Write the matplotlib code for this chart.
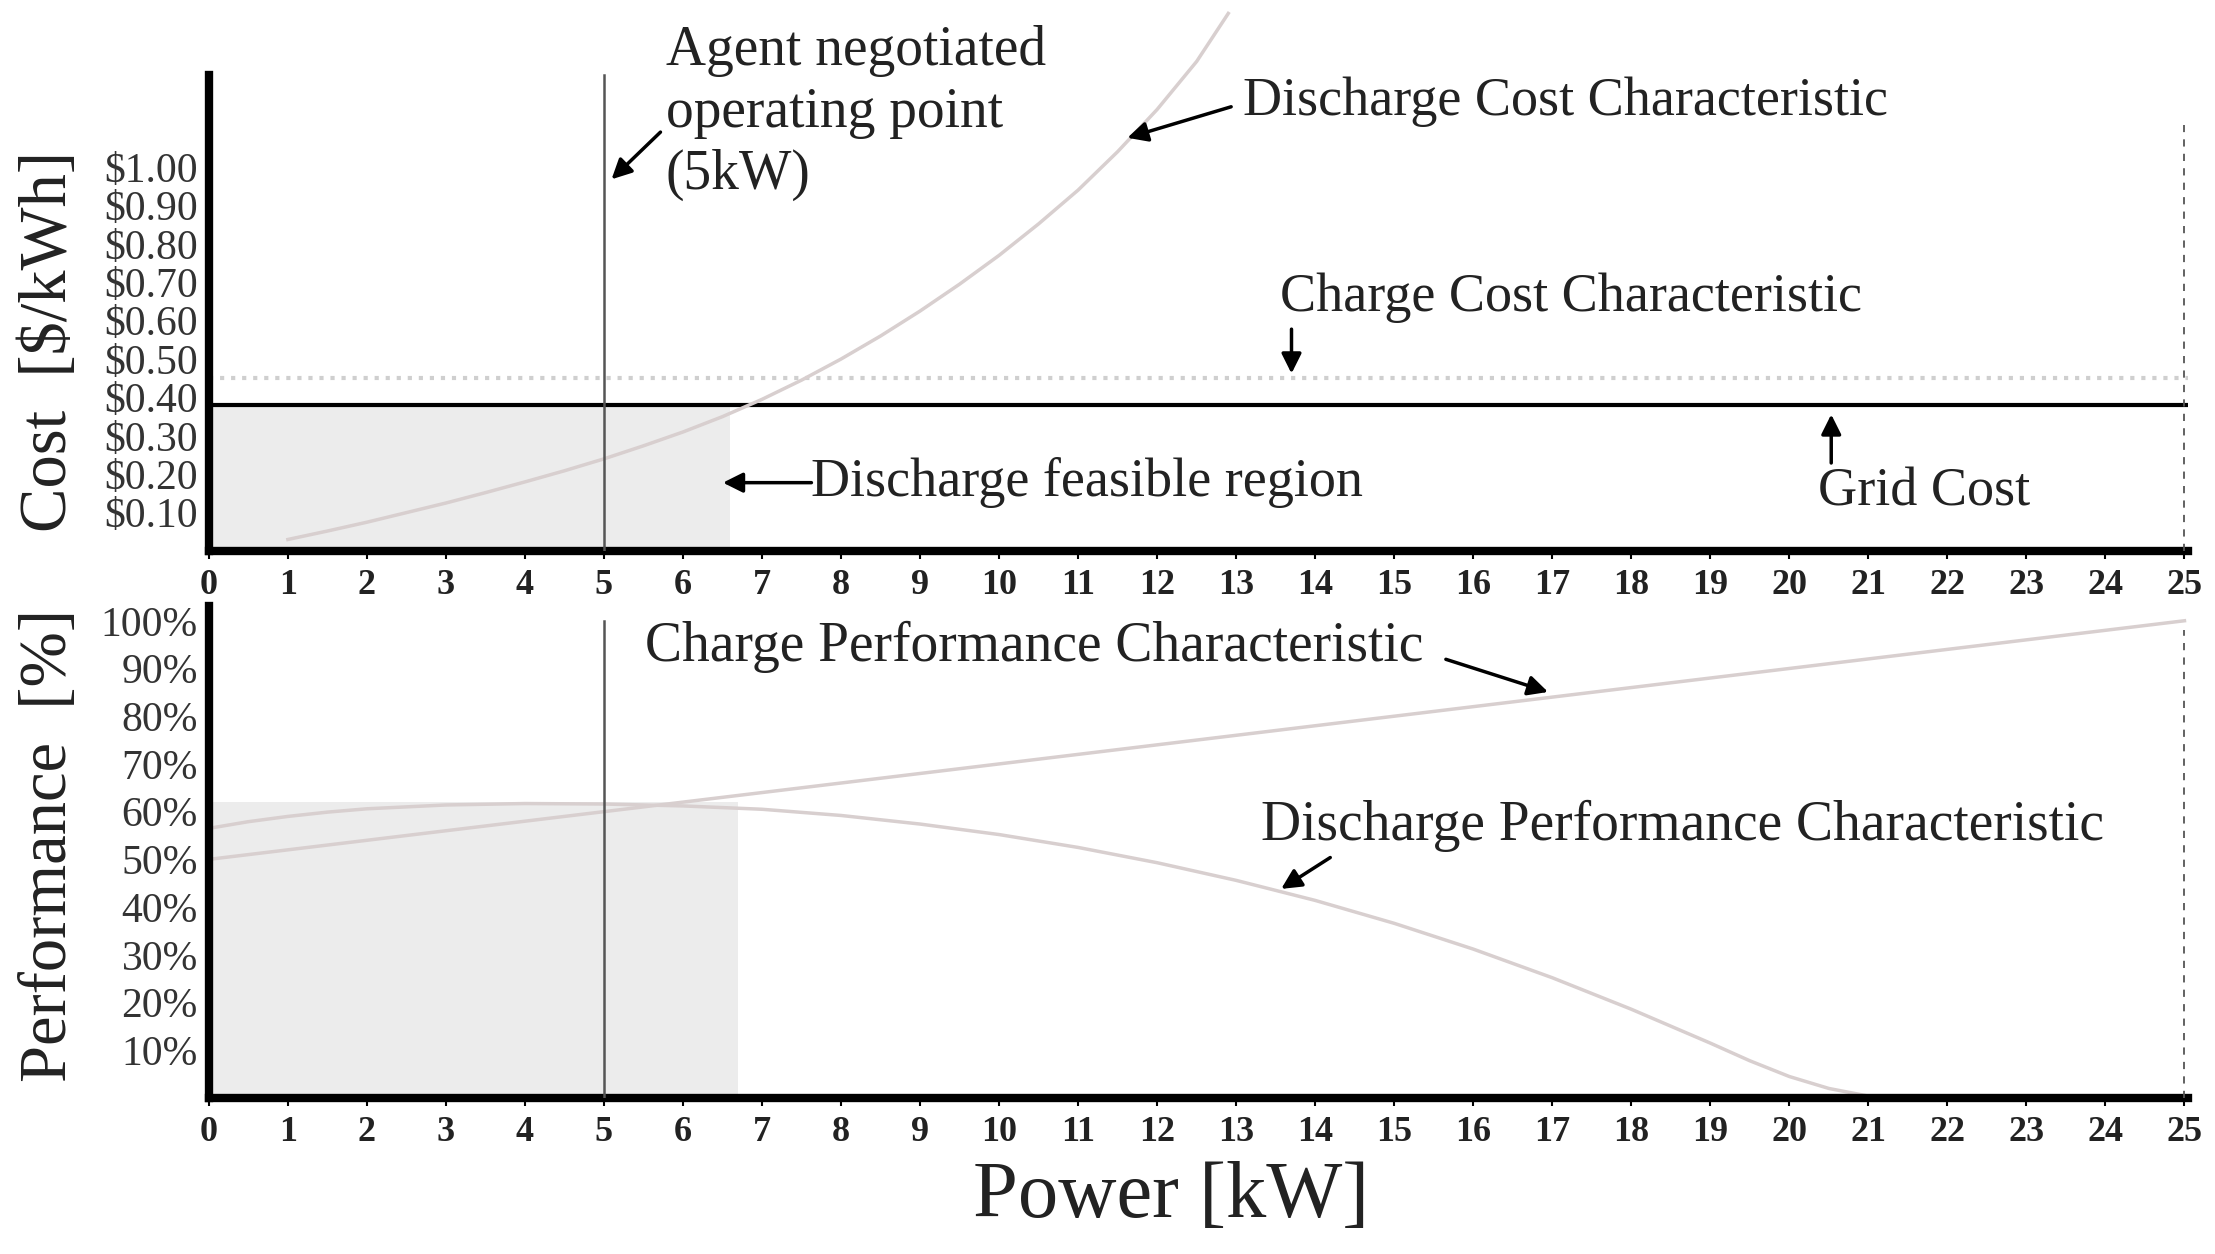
import numpy as np
import matplotlib
matplotlib.use("Agg")
import matplotlib.pyplot as plt
from matplotlib.patches import Rectangle

# values
power_ticks = list(range(26))
cost_ticks = [0.1, 0.2, 0.3, 0.4, 0.5, 0.6, 0.7, 0.8, 0.9, 1.0]
cost_labels = ['\\$0.10', '\\$0.20', '\\$0.30', '\\$0.40', '\\$0.50',
               '\\$0.60', '\\$0.70', '\\$0.80', '\\$0.90', '\\$1.00']
perf_ticks = [10, 20, 30, 40, 50, 60, 70, 80, 90, 100]
perf_labels = ['10%', '20%', '30%', '40%', '50%', '60%', '70%', '80%', '90%', '100%']

discharge_cost_kw = [1.0, 1.5, 2.0, 2.5, 3.0, 3.5, 4.0, 4.5, 5.0, 5.5, 6.0, 6.5, 7.0,
                     7.5, 8.0, 8.5, 9.0, 9.5, 10.0, 10.5, 11.0, 11.5, 12.0, 12.5, 12.9]
discharge_cost = [0.030, 0.052, 0.075, 0.100, 0.125, 0.152, 0.180, 0.209, 0.240, 0.274,
                  0.310, 0.350, 0.395, 0.445, 0.500, 0.560, 0.625, 0.695, 0.770, 0.852,
                  0.940, 1.040, 1.150, 1.275, 1.400]
charge_cost = 0.45
grid_cost = 0.38

charge_perf_kw = [0, 25]
charge_perf = [50, 100]
discharge_perf_kw = [0, 0.5, 1, 1.5, 2, 3, 4, 5, 6, 7, 8, 9, 10, 11, 12, 13, 14, 15, 16,
                     17, 18, 19, 19.5, 20, 20.5, 21]
discharge_perf = [56.5, 57.9, 59.0, 59.9, 60.6, 61.4, 61.7, 61.6, 61.2, 60.5, 59.2, 57.4,
                  55.2, 52.5, 49.3, 45.6, 41.4, 36.6, 31.2, 25.2, 18.6, 11.5, 7.8, 4.5,
                  2.0, 0.4]

operating_point = 5
feasible_cost_kw = 6.6
feasible_perf_kw = 6.7
feasible_perf_top = 62
max_power = 25

serif = 'Liberation Serif'
curve_col = '#d8cfcf'
line_col = '#555555'

fig = plt.figure(figsize=(22.15, 12.54), dpi=100)
ax1 = fig.add_axes([0.0943, 0.5606, 0.8937, 0.4394])
ax2 = fig.add_axes([0.0943, 0.1244, 0.8937, 0.392])

for ax in (ax1, ax2):
    ax.set_xlim(0, 25.05)
    ax.spines['top'].set_visible(False)
    ax.spines['right'].set_visible(False)
    ax.spines['bottom'].set_linewidth(6)
    ax.spines['left'].set_linewidth(6)
    ax.set_xticks(power_ticks)
    ax.set_xticklabels([str(t) for t in power_ticks], fontfamily=serif,
                       fontsize=26, fontweight='bold', color='#222222')
    ax.tick_params(axis='x', length=6, width=1.5, pad=7)
    ax.tick_params(axis='y', length=0, pad=8)

# ---- cost panel ----
ax1.set_ylim(0, 1.435)
ax1.spines['left'].set_bounds(0, 1.24)
ax1.set_yticks(cost_ticks)
ax1.set_yticklabels(cost_labels, fontfamily=serif, fontsize=30, color='#333333')

ax1.add_patch(Rectangle((0, 0), feasible_cost_kw, grid_cost, facecolor='#ececec',
                        edgecolor='none', zorder=0))
ax1.axhline(charge_cost, color='#cfcfcf', lw=3, ls=':', zorder=1)
ax1.axhline(grid_cost, color='black', lw=3, zorder=2)
ax1.plot(discharge_cost_kw, discharge_cost, color=curve_col, lw=2.5, zorder=2, clip_on=False)
ax1.plot([operating_point, operating_point], [0, 1.24], color=line_col, lw=1.8, zorder=3)
ax1.plot([max_power, max_power], [0, 1.11], color=line_col, lw=1.3, ls=(0, (4, 4)), zorder=3)

arrow = dict(arrowstyle='-|>', color='black', lw=2.5, mutation_scale=30)
txt = dict(fontfamily=serif, color='#222222')

ax1.text(5.78, 1.14, 'Agent negotiated\noperating point\n(5kW)', ha='left', va='center',
         fontsize=40, linespacing=1.25, **txt)
ax1.annotate('', xy=(5.07, 0.963), xytext=(5.74, 1.096), arrowprops=arrow)
ax1.text(13.09, 1.17, 'Discharge Cost Characteristic', ha='left', va='center', fontsize=39, **txt)
ax1.annotate('', xy=(11.59, 1.074), xytext=(12.97, 1.159), arrowprops=arrow)
ax1.text(13.56, 0.66, 'Charge Cost Characteristic', ha='left', va='center', fontsize=39, **txt)
ax1.annotate('', xy=(13.70, 0.455), xytext=(13.70, 0.585), arrowprops=arrow)
ax1.text(20.36, 0.152, 'Grid Cost', ha='left', va='center', fontsize=39, **txt)
ax1.annotate('', xy=(20.53, 0.363), xytext=(20.53, 0.222), arrowprops=arrow)
ax1.text(7.62, 0.178, 'Discharge feasible region', ha='left', va='center', fontsize=39, **txt)
ax1.annotate('', xy=(6.47, 0.178), xytext=(7.66, 0.178), arrowprops=arrow)

# ---- performance panel ----
ax2.set_ylim(0, 103)
ax2.set_yticks(perf_ticks)
ax2.set_yticklabels(perf_labels, fontfamily=serif, fontsize=30, color='#333333')

ax2.add_patch(Rectangle((0, 0), feasible_perf_kw, feasible_perf_top, facecolor='#ececec',
                        edgecolor='none', zorder=0))
ax2.plot(charge_perf_kw, charge_perf, color=curve_col, lw=2.5, zorder=2)
ax2.plot(discharge_perf_kw, discharge_perf, color=curve_col, lw=2.5, zorder=2)
ax2.plot([operating_point, operating_point], [0, 100], color=line_col, lw=1.8, zorder=3)
ax2.plot([max_power, max_power], [0, 98], color=line_col, lw=1.3, ls=(0, (4, 4)), zorder=3)

ax2.text(5.52, 94.5, 'Charge Performance Characteristic', ha='left', va='center', fontsize=40, **txt)
ax2.annotate('', xy=(16.98, 84.9), xytext=(15.62, 92.1), arrowprops=arrow)
ax2.text(13.32, 57, 'Discharge Performance Characteristic', ha='left', va='center', fontsize=40, **txt)
ax2.annotate('', xy=(13.54, 43.5), xytext=(14.22, 50.7), arrowprops=arrow)

# axis titles
fig.text(50 / 2215, 1 - 341 / 1254, 'Cost  [\\$/kWh]', rotation=90, ha='center', va='center',
         fontsize=48, **txt)
fig.text(50 / 2215, 1 - 845 / 1254, 'Performance  [%]', rotation=90, ha='center', va='center',
         fontsize=48, **txt)
fig.text(1171 / 2215, 1 - 1197 / 1254, 'Power [kW]', ha='center', va='center',
         fontsize=58, **txt)

fig.savefig('out.png', dpi=100)
